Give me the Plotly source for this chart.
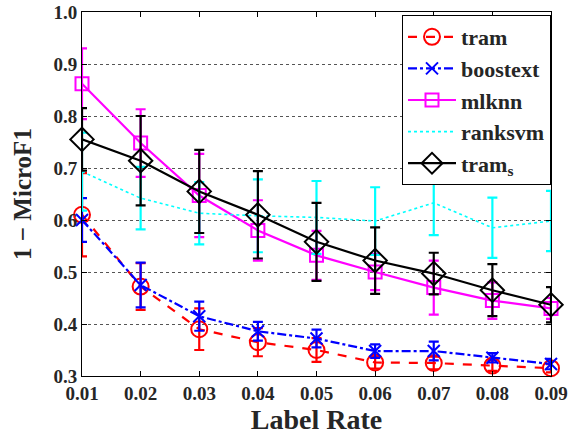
import plotly.graph_objects as go

label_rate = [0.01, 0.02, 0.03, 0.04, 0.05, 0.06, 0.07, 0.08, 0.09]

tram = [0.610, 0.472, 0.390, 0.365, 0.350, 0.326, 0.325, 0.320, 0.315]
tram_err = [0.080, 0.045, 0.040, 0.027, 0.023, 0.012, 0.012, 0.010, 0.008]

boostext = [0.600, 0.475, 0.415, 0.386, 0.372, 0.348, 0.348, 0.335, 0.323]
boostext_err = [0.042, 0.043, 0.028, 0.018, 0.017, 0.013, 0.018, 0.009, 0.010]

mlknn = [0.862, 0.748, 0.647, 0.580, 0.532, 0.500, 0.470, 0.445, 0.430]
mlknn_err = [0.068, 0.065, 0.080, 0.058, 0.047, 0.035, 0.052, 0.035, 0.020]

ranksvm = [0.693, 0.642, 0.613, 0.608, 0.605, 0.598, 0.633, 0.585, 0.598]
ranksvm_err = [0.075, 0.060, 0.060, 0.070, 0.070, 0.065, 0.062, 0.058, 0.058]

tram_s = [0.755, 0.714, 0.655, 0.610, 0.558, 0.522, 0.497, 0.465, 0.437]
tram_s_err = [0.060, 0.086, 0.080, 0.084, 0.075, 0.064, 0.040, 0.050, 0.034]

x_ticks = [0.01, 0.02, 0.03, 0.04, 0.05, 0.06, 0.07, 0.08, 0.09]
x_tick_text = ["0.01", "0.02", "0.03", "0.04", "0.05", "0.06", "0.07", "0.08", "0.09"]
y_ticks = [0.3, 0.4, 0.5, 0.6, 0.7, 0.8, 0.9, 1.0]
y_tick_text = ["0.3", "0.4", "0.5", "0.6", "0.7", "0.8", "0.9", "1.0"]

FONT = "Liberation Serif"
TXT = "#262626"

series = [
    ("tram", tram, tram_err, "#ff0000", "dash", 2.2, "circle-open", 16),
    ("boostext", boostext, boostext_err, "#0000ff", "dashdot", 2.2, "x-thin-open", 12),
    ("mlknn", mlknn, mlknn_err, "#ff00ff", "solid", 2.2, "square-open", 13),
    ("ranksvm", ranksvm, ranksvm_err, "#00ffff", "dot", 1.6, None, 0),
    ("tram<sub>s</sub>", tram_s, tram_s_err, "#000000", "solid", 2.2, "diamond-open", 18),
]

fig = go.Figure()
for i, (name, vals, errs, color, dash, lw, sym, ms) in enumerate(series):
    mode = "lines+markers" if sym else "lines"
    marker = dict(symbol=sym, size=ms, color=color, line=dict(width=2, color=color)) if sym else None
    fig.add_trace(go.Scatter(
        x=label_rate, y=vals, name=name, mode=mode,
        line=dict(color=color, dash=dash, width=lw),
        marker=marker,
        error_y=dict(type="data", array=errs, visible=True, color=color, thickness=2.2, width=5),
        cliponaxis=False,
    ))

fig.update_layout(
    width=568, height=436,
    margin=dict(l=82, r=17, t=12, b=60),
    paper_bgcolor="white", plot_bgcolor="white",
    font=dict(family=FONT, color=TXT, size=19, weight="bold"),
    showlegend=True,
    legend=dict(
        x=1, y=1 - 3 / 364, xanchor="right", yanchor="top",
        bgcolor="white", bordercolor="black", borderwidth=1,
        itemwidth=48,
        font=dict(family=FONT, size=22, color=TXT, weight="bold"),
    ),
)

fig.update_xaxes(
    range=[0.01, 0.09], tickvals=x_ticks, ticktext=x_tick_text, automargin=False,
    showline=True, linecolor="black", linewidth=1, mirror="ticks",
    ticks="inside", ticklen=5, tickcolor="black", showgrid=False, zeroline=False,
    tickfont=dict(family=FONT, size=19, color=TXT, weight="bold"),
    title=dict(text="Label Rate", font=dict(family=FONT, size=28, color=TXT, weight="bold"), standoff=0),
)
fig.update_yaxes(
    range=[0.3, 1.0], tickvals=y_ticks, ticktext=y_tick_text, automargin=False,
    showline=True, linecolor="black", linewidth=1, mirror="ticks",
    ticks="inside", ticklen=5, tickcolor="black",
    showgrid=True, gridcolor="#555555", griddash="dot", gridwidth=1, zeroline=False,
    tickfont=dict(family=FONT, size=19, color=TXT, weight="bold"),
    title=dict(text="1 − MicroF1", font=dict(family=FONT, size=25, color=TXT, weight="bold"), standoff=14),
)

fig.write_html("out.html")
